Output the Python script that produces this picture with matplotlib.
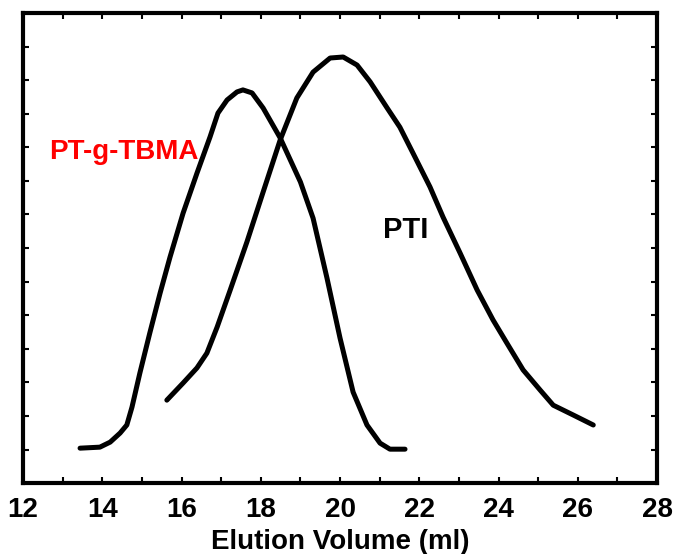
import matplotlib
matplotlib.use('Agg')
import matplotlib.pyplot as plt
from matplotlib.ticker import MultipleLocator

# GPC traces
graft_x = [13.44, 13.94, 14.20, 14.45, 14.62, 14.75, 14.95, 15.20, 15.46, 15.71,
           16.04, 16.39, 16.72, 16.92, 17.15, 17.40, 17.55, 17.78, 18.06, 18.49,
           19.00, 19.32, 19.67, 20.00, 20.33, 20.68, 21.01, 21.26, 21.64]
graft_y = [1.04, 1.07, 1.22, 1.49, 1.73, 2.26, 3.28, 4.47, 5.66, 6.73,
           8.04, 9.23, 10.31, 11.02, 11.41, 11.65, 11.71, 11.62, 11.17, 10.28,
           8.97, 7.89, 6.11, 4.32, 2.71, 1.73, 1.19, 1.01, 1.01]

pti_x = [15.63, 16.04, 16.39, 16.64, 16.90, 17.22, 17.65, 18.06, 18.49, 18.91,
         19.32, 19.75, 20.08, 20.43, 20.76, 21.19, 21.51, 21.84, 22.27, 22.60,
         23.03, 23.46, 23.86, 24.21, 24.62, 25.05, 25.38, 25.88, 26.39]
pti_y = [2.47, 2.98, 3.43, 3.87, 4.65, 5.72, 7.18, 8.67, 10.22, 11.47,
         12.24, 12.66, 12.69, 12.45, 11.95, 11.17, 10.60, 9.83, 8.82, 7.92,
         6.85, 5.75, 4.86, 4.17, 3.37, 2.77, 2.32, 2.03, 1.73]

x_ticks = [12, 14, 16, 18, 20, 22, 24, 26, 28]

plt.rcParams['font.family'] = ['Liberation Sans', 'DejaVu Sans']
plt.rcParams['font.weight'] = 'bold'

fig = plt.figure(figsize=(6.76, 5.54), dpi=100)
ax = fig.add_axes([0.034, 0.128, 0.938, 0.8485])

ax.plot(graft_x, graft_y, color='black', lw=3.6, solid_capstyle='round', solid_joinstyle='round')
ax.plot(pti_x, pti_y, color='black', lw=3.6, solid_capstyle='round', solid_joinstyle='round')

ax.text(16.42, 9.85, 'PT-g-TBMA', color='red', fontsize=20, fontweight='bold', ha='right', va='center')
ax.text(22.22, 7.55, 'PTI', color='black', fontsize=21, fontweight='bold', ha='right', va='center')

ax.set_xlim(12, 28)
ax.set_ylim(0, 14)
ax.set_xticks(x_ticks)
ax.xaxis.set_minor_locator(MultipleLocator(1))
ax.yaxis.set_major_locator(MultipleLocator(1))
ax.set_yticklabels([])
ax.tick_params(which='both', direction='in', top=True, right=True, length=4, width=1.5)
ax.tick_params(axis='x', labelsize=20, pad=10)
for lab in ax.get_xticklabels():
    lab.set_fontweight('bold')
for s in ax.spines.values():
    s.set_linewidth(3)

ax.set_xlabel('Elution Volume (ml)', fontsize=20, fontweight='bold', labelpad=4)

fig.savefig('out.png', dpi=100)
